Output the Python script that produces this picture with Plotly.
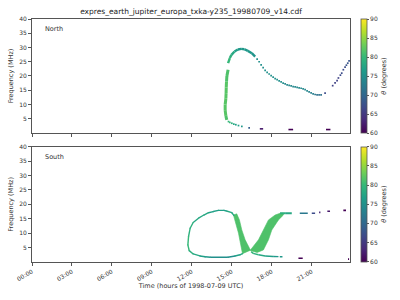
import plotly.graph_objects as go
from plotly.colors import sample_colorscale

TITLE = "expres_earth_jupiter_europa_txka-y235_19980709_v14.cdf"
tick_hours = [0, 3, 6, 9, 12, 15, 18, 21]
tick_labels = ["00:00", "03:00", "06:00", "09:00", "12:00", "15:00", "18:00", "21:00"]
freq_ticks = [5, 10, 15, 20, 25, 30, 35, 40]
theta_ticks = [60, 65, 70, 75, 80, 85, 90]
panel_names = ["North", "South"]

# ---------------- North ----------------
north_vert_t = [14.62, 14.55, 14.5, 14.5, 14.55, 14.57, 14.58, 14.6, 14.63, 14.72]
north_vert_f = [4.6, 6.0, 8.0, 10.0, 12.0, 14.0, 16.0, 18.0, 20.0, 22.2]
north_vert_th = [81.5, 82, 82, 82, 82, 82, 82, 81.5, 81.5, 80.5]

north_arc_t = [14.72, 14.85, 14.97, 15.2, 15.45, 15.7, 15.95, 16.2, 16.5, 16.75]
north_arc_f = [24.5, 26.3, 27.4, 28.6, 29.3, 29.5, 29.4, 28.8, 28.0, 26.8]
north_arc_th = [80, 79, 78, 77, 76, 76, 76, 76, 75.5, 75]

north_dot_t = [16.9, 17.05, 17.2, 17.35, 17.5, 17.65, 17.8, 17.95, 18.1, 18.25, 18.4, 18.55,
               18.7, 18.85, 19.0, 19.15, 19.3, 19.45, 19.6, 19.75, 19.9, 20.05, 20.2, 20.35,
               20.5, 20.65, 20.8, 20.95, 21.1, 21.25, 21.4, 21.55, 21.7, 22.0,
               22.57, 22.75, 22.9, 23.0, 23.15, 23.25, 23.37, 23.5, 23.6, 23.7, 23.8,
               14.75, 14.85, 15.0, 15.15, 15.3, 15.5, 15.75, 16.3]
north_dot_f = [25.9, 25.0, 23.9, 22.9, 22.0, 21.3, 20.7, 20.1, 19.6, 19.1, 18.7, 18.3,
               17.9, 17.5, 17.2, 16.9, 16.7, 16.5, 16.3, 16.15, 16.0, 15.85, 15.7, 15.5,
               15.2, 14.8, 14.4, 14.1, 13.75, 13.5, 13.4, 13.4, 13.4, 14.0,
               16.6, 17.6, 18.4, 19.3, 20.3, 21.0, 22.2, 23.1, 23.8, 24.5, 25.3,
               4.0, 3.7, 3.4, 3.1, 2.9, 2.6, 2.3, 1.8]
north_dot_th = [75, 75, 75, 75, 75, 75, 75, 75, 75, 75, 75, 75,
                75, 74.5, 74, 74, 74, 74, 74, 74, 74, 74, 74, 74,
                74, 74, 73, 73, 73, 72, 71, 71, 71, 67,
                66, 66, 66, 66, 67, 67, 67, 67, 68, 68, 68,
                80, 80, 79, 78, 77, 77, 76, 69]

north_dash_t0 = [17.1, 19.25, 22.07]
north_dash_t1 = [17.35, 19.6, 22.4]
north_dash_f = [1.45, 1.2, 1.2]
north_dash_th = [62, 60, 60]

# ---------------- South ----------------
south_loop_t = [15.15, 15.0, 14.6, 14.4, 14.0, 13.6, 13.25, 12.9, 12.5, 12.1, 11.87, 11.75,
                11.7, 11.8, 12.1, 12.6, 13.0, 13.4, 14.7, 15.25, 15.6, 15.8]
south_loop_f = [16.2, 17.1, 17.7, 17.9, 17.9, 17.5, 17.1, 16.3, 15.2, 13.7, 11.7, 8.8,
                5.9, 3.95, 2.8, 2.1, 1.8, 1.65, 1.65, 2.1, 2.5, 2.9]
south_loop_th = [78, 78, 77, 77, 77, 77, 78, 78, 78, 79, 79, 80,
                 80, 79, 78, 77, 76, 75, 75, 77, 78, 79]

south_wedge1_t = [15.12, 15.32, 15.5, 15.62, 15.75, 15.8, 16.4, 16.0, 15.75, 15.57, 15.37]
south_wedge1_f = [16.3, 13.4, 10.0, 7.1, 3.6, 2.9, 4.1, 7.7, 11.1, 14.6, 16.7]
south_wedge2_t = [16.37, 17.0, 17.37, 17.75, 18.25, 18.62, 18.87, 18.87, 18.5, 18.0, 17.75, 17.37, 16.9]
south_wedge2_f = [4.0, 7.7, 11.1, 14.6, 16.3, 16.9, 16.9, 16.3, 14.6, 11.1, 7.7, 4.2, 3.3]
wedge_theta = 81.5

south_top_t = [18.62, 19.0, 19.5]
south_top_f = [16.9, 16.9, 16.9]
south_top_th = [79, 78, 77]

south_low_t = [16.45, 16.6, 17.0, 17.5, 18.1, 18.5]
south_low_f = [3.6, 3.0, 2.5, 2.1, 1.9, 1.85]
south_low_th = [80, 79, 78, 77, 76, 76]

south_dash_t0 = [18.6, 20.0, 23.72, 20.1, 21.0, 21.55, 22.17, 23.37]
south_dash_t1 = [18.8, 20.32, 23.8, 20.7, 21.25, 21.65, 22.37, 23.57]
south_dash_f = [1.8, 1.3, 1.0, 16.9, 16.9, 17.2, 17.6, 17.9]
south_dash_th = [76, 60, 60, 72, 67, 63, 62, 60]

TMIN, TMAX = 0, 23.87
CMIN, CMAX = 60, 90


def col(th):
    v = (th - CMIN) / (CMAX - CMIN)
    return sample_colorscale("Viridis", [min(max(v, 0), 1)])[0]


fig = go.Figure()


def add_path(t, f, th, width, xa, ya):
    for i in range(len(t) - 1):
        fig.add_trace(go.Scatter(x=[t[i], t[i + 1]], y=[f[i], f[i + 1]], mode="lines",
                                 line=dict(color=col(th[i]), width=width),
                                 xaxis=xa, yaxis=ya, showlegend=False, hoverinfo="skip"))


def add_dashes(t0, t1, f, th, width, xa, ya):
    for a, b, y, c in zip(t0, t1, f, th):
        fig.add_trace(go.Scatter(x=[a, b], y=[y, y], mode="lines",
                                 line=dict(color=col(c), width=width),
                                 xaxis=xa, yaxis=ya, showlegend=False, hoverinfo="skip"))


def add_poly(t, f, th, xa, ya):
    fig.add_trace(go.Scatter(x=t + [t[0]], y=f + [f[0]], mode="lines", fill="toself",
                             fillcolor=col(th), line=dict(color=col(th), width=0.6),
                             xaxis=xa, yaxis=ya, showlegend=False, hoverinfo="skip"))


# North
add_path(north_vert_t, north_vert_f, north_vert_th, 3.0, "x", "y")
add_path(north_arc_t, north_arc_f, north_arc_th, 2.4, "x", "y")
add_dashes(north_dash_t0, north_dash_t1, north_dash_f, north_dash_th, 1.6, "x", "y")
fig.add_trace(go.Scatter(x=north_dot_t, y=north_dot_f, mode="markers",
                         marker=dict(symbol="square", size=1.7, color=north_dot_th,
                                     coloraxis="coloraxis", line=dict(width=0)),
                         xaxis="x", yaxis="y", showlegend=False, hoverinfo="skip"))

# South
add_poly(south_wedge1_t, south_wedge1_f, wedge_theta, "x2", "y2")
add_poly(south_wedge2_t, south_wedge2_f, wedge_theta, "x2", "y2")
add_path(south_loop_t, south_loop_f, south_loop_th, 1.4, "x2", "y2")
add_path(south_top_t, south_top_f, south_top_th, 2.0, "x2", "y2")
add_path(south_low_t, south_low_f, south_low_th, 1.4, "x2", "y2")
add_dashes(south_dash_t0, south_dash_t1, south_dash_f, south_dash_th, 1.6, "x2", "y2")
fig.add_trace(go.Scatter(x=south_loop_t, y=south_loop_f, mode="markers",
                         marker=dict(symbol="square", size=1.2, color=south_loop_th,
                                     coloraxis="coloraxis2", line=dict(width=0)),
                         xaxis="x2", yaxis="y2", showlegend=False, hoverinfo="skip"))

FONT = "DejaVu Sans"
TXT = "#333333"
AX = "#555555"

axis_common = dict(showline=True, mirror=True, linecolor=AX, linewidth=1,
                   ticks="outside", ticklen=3, tickcolor=AX, tickwidth=0.8,
                   showgrid=False, zeroline=False,
                   tickfont=dict(family=FONT, size=6, color=TXT))

top_dom = [0.531, 1.0]
bot_dom = [0.0, 0.4745]

cb_common = dict(thickness=6, x=1.0336, xanchor="left", lenmode="fraction",
                 ypad=0, xpad=0, yanchor="top", outlinewidth=0.8, outlinecolor=AX,
                 tickvals=theta_ticks, ticks="outside", ticklen=2, tickcolor=AX,
                 tickfont=dict(family=FONT, size=6, color=TXT),
                 title=dict(text="<i>θ</i> (degrees)", side="right",
                            font=dict(family=FONT, size=6.5, color=TXT)))

fig.update_layout(
    width=400, height=300,
    margin=dict(l=32, r=50, t=19, b=38),
    paper_bgcolor="white", plot_bgcolor="white",
    font=dict(family=FONT, color=TXT),
    title=dict(text=TITLE, x=191 / 400, xref="container", xanchor="center",
               y=1 - 11 / 300, yref="container", yanchor="middle",
               font=dict(family=FONT, size=7.5, color="#222222")),
    xaxis=dict(domain=[0, 1], anchor="y", range=[TMIN, TMAX], tickvals=tick_hours,
               showticklabels=False, **axis_common),
    yaxis=dict(domain=top_dom, anchor="x", range=[0, 40], tickvals=freq_ticks,
               title=dict(text="Frequency (MHz)", standoff=4,
                          font=dict(family=FONT, size=6.5, color=TXT)), **axis_common),
    xaxis2=dict(domain=[0, 1], anchor="y2", range=[TMIN, TMAX], tickvals=tick_hours,
                ticktext=tick_labels, tickangle=-30,
                title=dict(text="Time (hours of 1998-07-09 UTC)", standoff=2,
                           font=dict(family=FONT, size=6.5, color=TXT)), **axis_common),
    yaxis2=dict(domain=bot_dom, anchor="x2", range=[0, 40], tickvals=freq_ticks,
                title=dict(text="Frequency (MHz)", standoff=4,
                           font=dict(family=FONT, size=6.5, color=TXT)), **axis_common),
    coloraxis=dict(colorscale="Viridis", cmin=CMIN, cmax=CMAX,
                   colorbar=dict(y=top_dom[1], len=top_dom[1] - top_dom[0], **cb_common)),
    coloraxis2=dict(colorscale="Viridis", cmin=CMIN, cmax=CMAX,
                    colorbar=dict(y=bot_dom[1], len=bot_dom[1] - bot_dom[0], **cb_common)),
    annotations=[
        dict(text=panel_names[0], xref="x domain", yref="y domain", x=0.035, y=0.91,
             xanchor="left", yanchor="middle", showarrow=False,
             font=dict(family=FONT, size=6.5, color=TXT)),
        dict(text=panel_names[1], xref="x2 domain", yref="y2 domain", x=0.035, y=0.91,
             xanchor="left", yanchor="middle", showarrow=False,
             font=dict(family=FONT, size=6.5, color=TXT)),
    ],
)

fig.write_html("out.html")
